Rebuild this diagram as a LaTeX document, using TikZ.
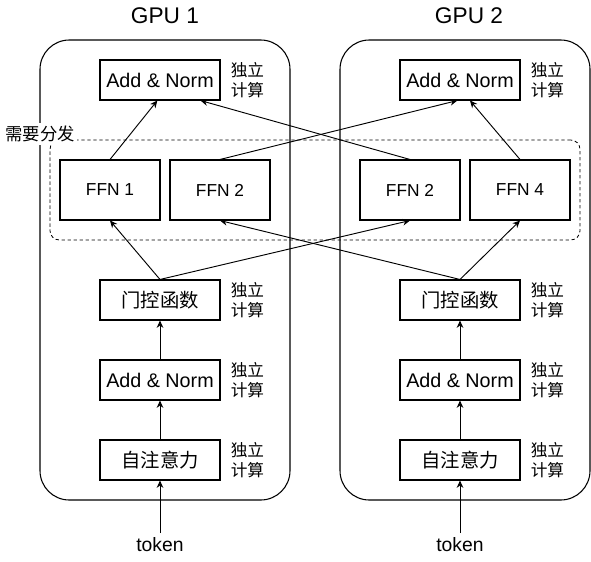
\documentclass[tikz,border=0pt]{standalone}
\usepackage{fontspec}
\setmainfont{Liberation Sans}
\newfontfamily\cjk{Noto Sans CJK SC}
\usetikzlibrary{arrows.meta,positioning}

\begin{document}
\begin{tikzpicture}[
  x=0.75pt, y=-0.75pt,
  gpu/.style={draw, rounded corners=22pt, minimum width=187.5pt,
              minimum height=345pt, line width=0.8pt},
  grp/.style={draw, dash pattern=on 2.5pt off 2pt, rounded corners=7pt,
              minimum width=397.5pt, minimum height=75pt, line width=0.6pt},
  blk/.style={draw, line width=0.8pt, minimum width=90pt, minimum height=30pt,
              inner sep=0pt, font=\fontsize{14.8}{16}\selectfont},
  cblk/.style={blk, font=\cjk\fontsize{14.5}{16}\selectfont},
  ffn/.style={draw, line width=0.8pt, minimum width=75pt, minimum height=45pt,
              inner sep=0pt, font=\fontsize{13}{15}\selectfont},
  note/.style={align=left, inner sep=0pt, font=\cjk\fontsize{12.5}{14.5}\selectfont},
  ttl/.style={font=\fontsize{17}{20}\selectfont},
  arr/.style={-{Stealth[length=5.5pt,width=5pt]}, line width=0.7pt}]

\useasboundingbox (0,0) rectangle (591,561);

% containers
\node[gpu] (g1) at (165,270) {};
\node[gpu] (g2) at (465,270) {};
\node[grp] (dist) at (315,190) {};
\node[ttl] (t1) at (165,16) {GPU 1};
\node[ttl] (t2) at (469,16) {GPU 2};
\node[fill=white, inner sep=2pt, font=\cjk\fontsize{13}{15}\selectfont]
  (distlbl) at (40,134) {需要分发};

% GPU 1
\node[blk]  (an1)   at (160,80)  {Add \& Norm};
\node[ffn]  (ffn1)  at (110,190) {FFN 1};
\node[ffn]  (ffn2a) at (220,190) {FFN 2};
\node[cblk] (gate1) at (160,300) {门控函数};
\node[blk]  (bn1)   at (160,380) {Add \& Norm};
\node[cblk] (att1)  at (160,460) {自注意力};
\node (tok1) at (160,545) {\fontsize{14.5}{16}\selectfont token};

% GPU 2
\node[blk]  (an2)   at (460,80)  {Add \& Norm};
\node[ffn]  (ffn2b) at (410,190) {FFN 2};
\node[ffn]  (ffn4)  at (520,190) {FFN 4};
\node[cblk] (gate2) at (460,300) {门控函数};
\node[blk]  (bn2)   at (460,380) {Add \& Norm};
\node[cblk] (att2)  at (460,460) {自注意力};
\node (tok2) at (460,545) {\fontsize{14.5}{16}\selectfont token};

% notes
\foreach \b in {an1,gate1,bn1,att1,an2,gate2,bn2,att2}
  \node[note, right=7.5pt of \b] (n-\b) {独立\\计算};

% arrows
\draw[arr] (tok1) -- (att1);
\draw[arr] (att1) -- (bn1);
\draw[arr] (bn1) -- (gate1);
\draw[arr] (gate1.north) -- (ffn1.south);
\draw[arr] (gate1.north) -- (ffn2b.south);
\draw[arr] (ffn1.north) -- ([xshift=-2pt]an1.south);
\draw[arr] (ffn2b.north) -- ([xshift=-15pt]an1.south east);

\draw[arr] (tok2) -- (att2);
\draw[arr] (att2) -- (bn2);
\draw[arr] (bn2) -- (gate2);
\draw[arr] (gate2.north) -- (ffn2a.south);
\draw[arr] (gate2.north) -- (ffn4.south);
\draw[arr] (ffn4.north) -- ([xshift=7.5pt]an2.south);
\draw[arr] (ffn2a.north) -- ([xshift=-2pt]an2.south);
\end{tikzpicture}
\end{document}
